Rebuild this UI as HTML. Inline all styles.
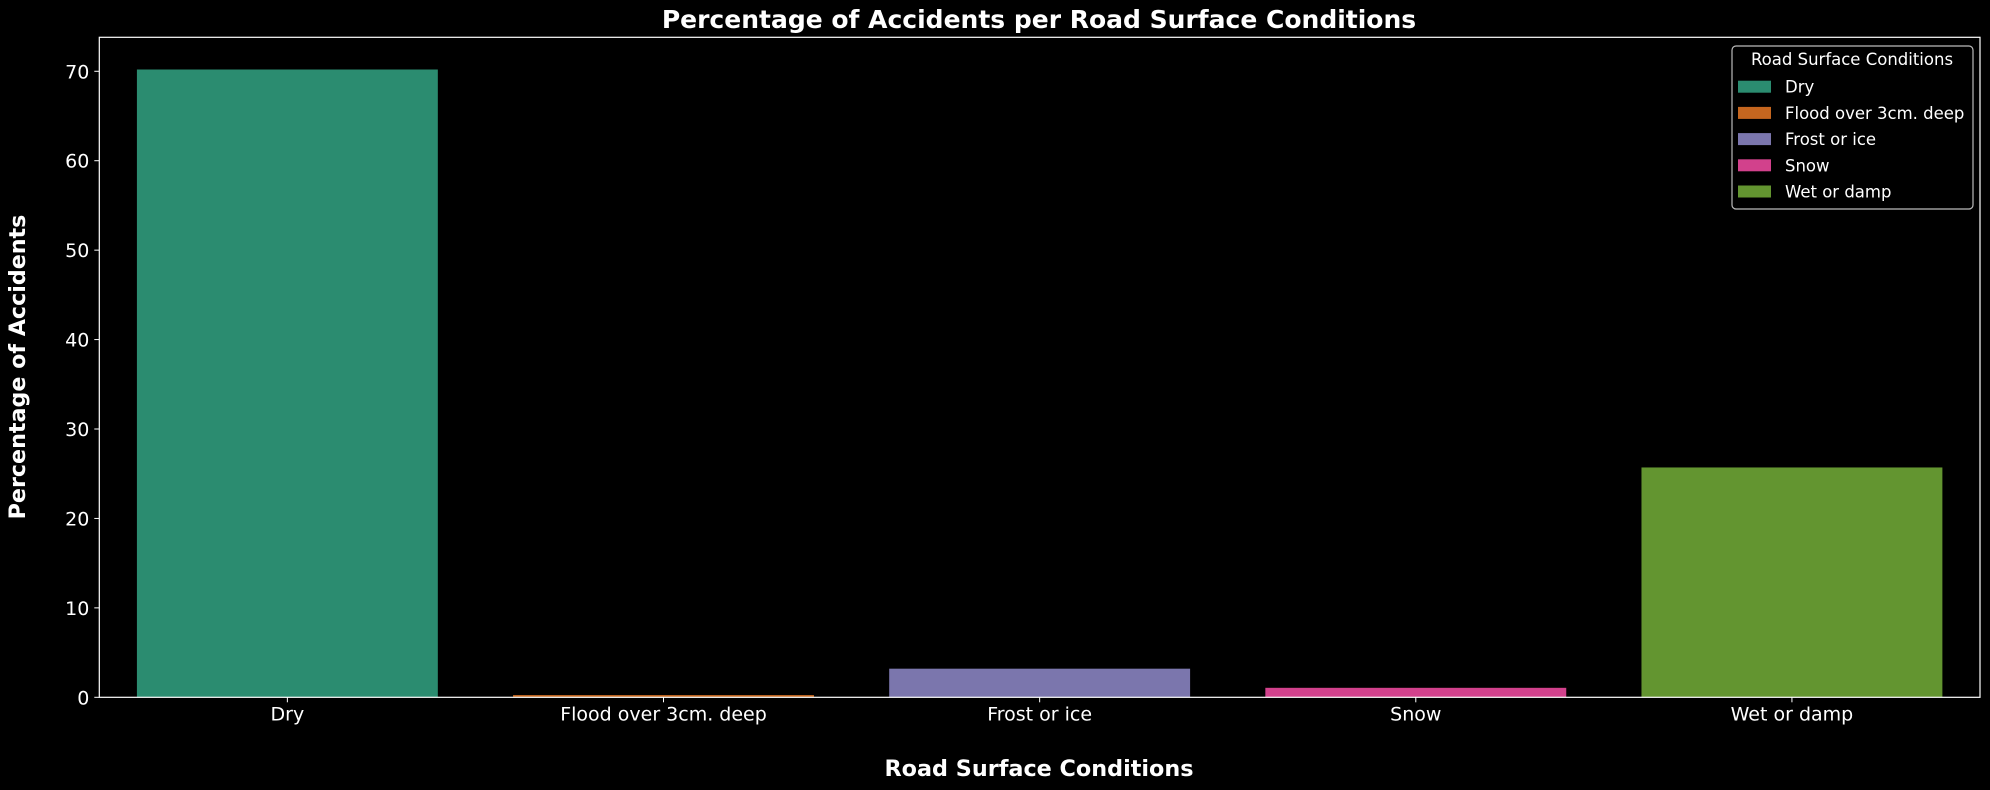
<!DOCTYPE html>
<html><head><meta charset="utf-8">
<style>
html,body{margin:0;padding:0;background:#000;}
svg{display:block;font-family:"DejaVu Sans","Liberation Sans",sans-serif;}
</style></head>
<body>
<svg id="chart" width="1990" height="790" viewBox="0 0 1990 790">
<rect x="0" y="0" width="1990" height="790" fill="#000"/>
<text x="1039" y="28" text-anchor="middle" font-size="25" font-weight="bold" fill="#fff">Percentage of Accidents per Road Surface Conditions</text>
<g id="bars"></g>
<g id="axes"></g>
<text x="1039" y="776" text-anchor="middle" font-size="22.3" font-weight="bold" fill="#fff">Road Surface Conditions</text>
<text transform="translate(25,367) rotate(-90)" text-anchor="middle" font-size="22.2" font-weight="bold" fill="#fff">Percentage of Accidents</text>
<g id="legend"></g>
</svg>
<script>
const categories = ["Dry","Flood over 3cm. deep","Frost or ice","Snow","Wet or damp"];
const values = [70.2, 0.25, 3.2, 1.06, 25.7];
const colors = ["#2b8c70","#c5661f","#7b76ad","#d2418c","#639530"];
const yTicks = [0,10,20,30,40,50,60,70];

const NS="http://www.w3.org/2000/svg";
const L=99.3, R=1980, T=37.3, B=697.3, yMax=73.8;
const band=(R-L)/categories.length;
const xC=i=>L+band*(i+0.5);
const y=v=>B-(v/yMax)*(B-T);
function mk(tag,attrs,parent){const e=document.createElementNS(NS,tag);for(const k in attrs)e.setAttribute(k,attrs[k]);parent.appendChild(e);return e;}
const bars=document.getElementById('bars'), axes=document.getElementById('axes'), leg=document.getElementById('legend');

categories.forEach((c,i)=>{
  const w=band*0.8;
  const r=mk('rect',{x:xC(i)-w/2,y:y(values[i]),width:w,height:B-y(values[i]),fill:colors[i]},bars);
  
  
  const t=mk('line',{x1:xC(i),x2:xC(i),y1:B,y2:B+5,stroke:'#fff','stroke-width':1},axes);
  
  
  const lb=mk('text',{x:xC(i),y:B+23,'text-anchor':'middle','font-size':19,fill:'#fff'},axes);
  lb.textContent=c;
  
  
});
yTicks.forEach(v=>{
  const t=mk('line',{x1:L-5,x2:L,y1:y(v),y2:y(v),stroke:'#fff','stroke-width':1},axes);
  
  
  const lb=mk('text',{x:L-10,y:y(v)+7,'text-anchor':'end','font-size':19,fill:'#fff'},axes);
  lb.textContent=v;
  
  
});
const frame=mk('rect',{x:L,y:T,width:R-L,height:B-T,fill:'none',stroke:'#fff','stroke-width':1.2},axes);



const box=mk('rect',{x:1732,y:46,width:241,height:163,rx:4,fill:'#000','fill-opacity':0.8,stroke:'#bbb','stroke-width':1.2},leg);


const lt=mk('text',{x:1852,y:65,'text-anchor':'middle','font-size':16.5,fill:'#fff'},leg);
lt.textContent='Road Surface Conditions';


categories.forEach((c,i)=>{
  const yy=86.7+i*26.2;
  const g=mk('g',{},leg);
  
  
  mk('rect',{x:1738,y:yy-6,width:33,height:12,fill:colors[i]},g);
  const t=mk('text',{x:1785,y:yy+6,'font-size':16.5,fill:'#fff'},g);
  t.textContent=c;
});
</script>
</body></html>
